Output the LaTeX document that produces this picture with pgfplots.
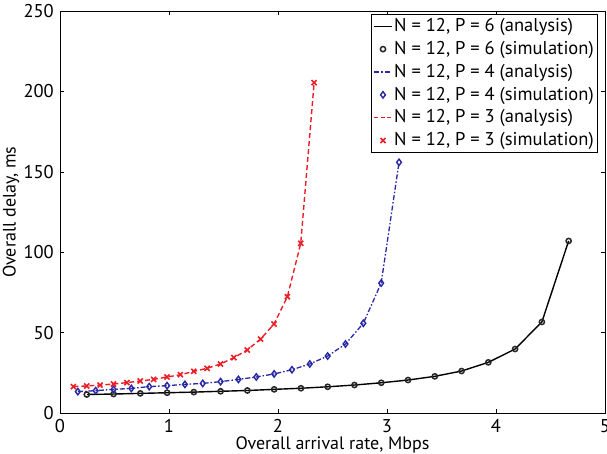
\documentclass[border=0pt]{standalone}
\usepackage{pgfplots}
\pgfplotsset{compat=1.18}
\usepackage{fontspec}
\setmainfont{PT Sans}
\definecolor{myred}{RGB}{235,30,40}
\definecolor{myblue}{RGB}{40,40,165}

\pgfplotstableread{
x y
0.2456 11.5
0.4912 11.8
0.7368 12.2
0.9824 12.6
1.2280 13.0
1.4736 13.5
1.7192 14.0
1.9648 14.7
2.2104 15.4
2.4560 16.3
2.7016 17.4
2.9472 18.8
3.1928 20.5
3.4384 22.8
3.6840 26.1
3.9296 31.5
4.1752 39.8
4.4208 56.6
4.6664 107.0
}\pSix

\pgfplotstableread{
x y
0.1637 13.3
0.3274 13.9
0.4911 14.7
0.6548 15.3
0.8185 16.4
0.9822 17.0
1.1459 17.8
1.3096 18.4
1.4733 19.5
1.6370 20.9
1.8007 22.4
1.9644 24.3
2.1281 26.9
2.2918 30.5
2.4555 35.4
2.6192 42.9
2.7829 55.8
2.9466 80.8
3.1103 155.9
}\pFour

\pgfplotstableread{
x y
0.1227 16.4
0.2454 16.8
0.3681 17.4
0.4908 18.0
0.6135 18.9
0.7362 19.9
0.8589 20.9
0.9816 22.4
1.1043 23.8
1.2270 25.9
1.3497 27.8
1.4724 30.5
1.5951 34.4
1.7178 39.2
1.8405 46.0
1.9632 55.3
2.0859 72.3
2.2086 105.5
2.3313 205.4
}\pThree

\begin{document}
\fontsize{18}{21}\selectfont
\begin{tikzpicture}
\begin{axis}[
scale only axis,
width=545pt, height=402pt,
xmin=0, xmax=5, ymin=0, ymax=250,
xtick={0,1,2,3,4,5},
ytick={0,50,100,150,200,250},
tick align=inside,
major tick length=4pt,
xtick pos=both, ytick pos=both,
axis line style={line width=0.8pt},
tick style={line width=0.6pt, black},
tick label style={font=\fontsize{18.5}{21}\selectfont},
/pgf/number format/assume math mode=true,
xlabel={Overall arrival rate, Mbps},
ylabel={Overall delay, ms},
label style={font=\fontsize{18}{21}\selectfont},
xlabel style={yshift=8.5pt},
ylabel style={yshift=-8pt},
legend style={at={(rel axis cs:1,1)}, anchor=north east, xshift=-7pt, yshift=-3pt,
  draw=black, line width=0.6pt, font=\fontsize{18.5}{21}\selectfont,
  row sep=3pt, inner sep=2pt},
legend cell align=left,
]
\addplot[black, line width=1.4pt] table {\pSix};
\addlegendentry{N = 12, P = 6 (analysis)}
\addplot[only marks, mark=o, mark size=2.6pt, mark options={black!85, line width=1.5pt}, draw=black] table {\pSix};
\addlegendentry{N = 12, P = 6 (simulation)}
\addplot[myblue, line width=1.3pt, dash pattern=on 5pt off 2pt on 1.5pt off 2pt] table {\pFour};
\addlegendentry{N = 12, P = 4 (analysis)}
\addplot[only marks, mark=diamond, mark size=3.2pt, mark options={myblue, line width=1.4pt}, draw=myblue] table {\pFour};
\addlegendentry{N = 12, P = 4 (simulation)}
\addplot[color=myred, line width=1.4pt, dash pattern=on 5pt off 3pt,
  legend image code/.code={\draw[myred, line width=1.4pt, dash pattern=on 4pt off 2.5pt] (0cm,0cm) -- (0.6cm,0cm);}] table {\pThree};
\addlegendentry{N = 12, P = 3 (analysis)}
\addplot[only marks, mark=x, mark size=3.6pt, mark options={myred, line width=1.6pt}, draw=myred] table {\pThree};
\addlegendentry{N = 12, P = 3 (simulation)}
\end{axis}
\pgfresetboundingbox
\path[use as bounding box] (-60pt,-40pt) rectangle (547pt,413pt);
\end{tikzpicture}
\end{document}
